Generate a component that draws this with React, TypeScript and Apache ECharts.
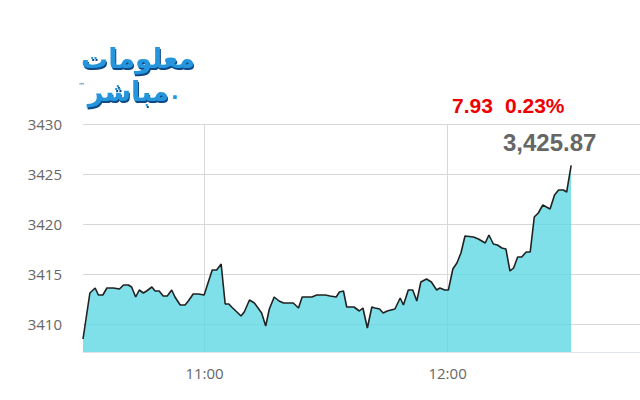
import React, { useEffect, useRef } from "react";
import * as echarts from "echarts";

// minutes after 10:30
const minuteOffsets = [
  0, 1.7, 3.0, 3.8, 4.9, 5.9, 7.5, 9.0, 10.0, 11.2, 12.0, 13.0, 13.9, 14.9, 15.7, 17.0, 17.8, 18.8, 19.8, 20.8,
  21.9, 22.7, 24.0, 25.2, 26.0, 27.2, 28.5, 29.9, 31.9, 33.0, 34.1, 35.1, 36.0, 36.7, 38.0, 39.0, 39.8, 41.1,
  42.3, 44.1, 45.1, 46.0, 47.2, 48.4, 49.5, 51.9, 53.2, 54.1, 56.5, 57.7, 59.8, 61.0, 62.5, 63.3, 64.3, 65.1,
  66.9, 68.2, 69.1, 70.2, 71.3, 72.1, 73.2, 74.1, 75.1, 77.0, 78.3, 79.1, 80.3, 81.4, 82.4, 83.4, 84.8, 86.0,
  87.3, 88.1, 89.3, 90.2, 91.3, 92.3, 93.3, 94.3, 96.4, 97.6, 99.3, 100.2, 101.3, 102.3, 103.4, 104.4, 105.4,
  106.3, 107.3, 108.3, 109.4, 110.4, 111.4, 112.4, 113.5, 115.3, 116.4, 117.4, 118.6, 119.4, 120.5,
];
const prices = [
  3408.5, 3413.1, 3413.6, 3412.9, 3412.9, 3413.6, 3413.6, 3413.5, 3413.9, 3413.9, 3413.7, 3412.7, 3413.4, 3413.1,
  3413.3, 3413.7, 3413.3, 3413.3, 3412.8, 3412.8, 3413.4, 3412.7, 3411.9, 3411.9, 3412.3, 3413.0, 3413.0, 3412.9,
  3415.4, 3415.4, 3416.0, 3412.0, 3412.0, 3411.7, 3411.2, 3410.8, 3411.2, 3412.4, 3412.1, 3411.1, 3409.8, 3411.5,
  3412.7, 3412.3, 3412.1, 3412.1, 3411.6, 3412.7, 3412.7, 3412.9, 3412.9, 3412.8, 3412.7, 3413.2, 3413.3, 3411.7,
  3411.7, 3411.3, 3411.6, 3409.6, 3411.7, 3411.6, 3411.5, 3411.1, 3411.3, 3411.5, 3412.6, 3411.9, 3413.4, 3413.4,
  3412.3, 3414.2, 3414.5, 3414.2, 3413.4, 3413.6, 3413.4, 3413.4, 3415.5, 3416.1, 3417.1, 3418.8, 3418.7, 3418.5,
  3418.1, 3418.9, 3418.0, 3417.9, 3417.6, 3417.5, 3415.3, 3415.6, 3416.7, 3416.7, 3417.2, 3417.2, 3420.7, 3421.1,
  3421.9, 3421.5, 3422.9, 3423.4, 3423.4, 3423.2, 3425.87,
];
const yTicks = [3410, 3415, 3420, 3425, 3430];
const xTicks = [30, 90]; // 11:00, 12:00
const changeText = "7.93";
const changePctText = "0.23%";
const lastText = "3,425.87";
const logoTop = "معلومات";
const logoBottom = "مباشر";

const OPEN_MIN = 10 * 60 + 30;

function fmtTime(m: number) {
  const t = Math.round(OPEN_MIN + m);
  const h = Math.floor(t / 60);
  const mm = t % 60;
  return h + ":" + String(mm).padStart(2, "0");
}

export default function App() {
  const ref = useRef<HTMLDivElement>(null);
  useEffect(() => {
    document.body.style.margin = "0";
    if (!ref.current) return;
    const chart = echarts.init(ref.current, null, { renderer: "svg" });
    const data = minuteOffsets.map((m, i) => [m, prices[i]]);
    const labelFont = { color: "#666", fontSize: 15, fontFamily: "Open Sans" };
    const logoStyle = {
      fill: "#2696dc",
      font: "bold 27px 'DejaVu Sans'",
      verticalAlign: "middle",
      textShadowColor: "#0c4a86",
      textShadowOffsetX: 1,
      textShadowOffsetY: 2,
      textShadowBlur: 1,
    };
    chart.setOption({
      animation: false,
      backgroundColor: "#fff",
      grid: { left: 83, right: 0, top: 124, bottom: 48 },
      xAxis: {
        type: "value",
        min: 0,
        max: 137.5,
        axisLine: { show: true, lineStyle: { color: "#dde2ec", width: 1 } },
        axisTick: { show: false, customValues: xTicks },
        axisLabel: { ...labelFont, margin: 13, customValues: xTicks, formatter: (v: number) => fmtTime(v) },
        splitLine: { show: true, lineStyle: { color: "#d8d8d8", width: 1 } },
      },
      yAxis: {
        type: "value",
        min: 3407.2,
        max: 3430,
        axisLine: { show: false },
        axisTick: { show: false, customValues: yTicks },
        axisLabel: { ...labelFont, margin: 21, customValues: yTicks, formatter: (v: number) => String(v) },
        splitLine: { show: true, lineStyle: { color: "#d8d8d8", width: 1 } },
      },
      series: [
        {
          type: "line",
          data,
          showSymbol: false,
          symbol: "none",
          lineStyle: { color: "#222", width: 1.6 },
          areaStyle: { color: "#5fd8e4", opacity: 0.8 },
          z: 2,
        },
      ],
      graphic: [
        {
          type: "text",
          x: 452,
          y: 105,
          style: { text: changeText, fill: "#ee0000", font: "bold 21px 'Liberation Sans', Arial", verticalAlign: "middle" },
        },
        {
          type: "text",
          x: 505,
          y: 105,
          style: { text: changePctText, fill: "#ee0000", font: "bold 21px 'Liberation Sans', Arial", verticalAlign: "middle" },
        },
        {
          type: "text",
          x: 503,
          y: 142,
          style: { text: lastText, fill: "#666", font: "bold 24px 'Liberation Sans', Arial", verticalAlign: "middle" },
        },
        {
          type: "text",
          x: 195,
          y: 58,
          style: { ...logoStyle, text: logoTop, align: "right" },
        },
        {
          type: "text",
          x: 169,
          y: 91,
          style: { ...logoStyle, text: logoBottom, align: "right" },
        },
        {
          type: "text",
          x: 171,
          y: 102,
          style: {
            text: ".",
            fill: "#2696dc",
            font: "bold 20px 'DejaVu Sans'",
            align: "left",
            verticalAlign: "bottom",
            textShadowColor: "#0c4a86",
            textShadowOffsetX: 1,
            textShadowOffsetY: 2,
          },
        },
        {
          type: "text",
          x: 78,
          y: 86,
          style: { text: "™", fill: "#2a5f9a", font: "7px 'DejaVu Sans'", verticalAlign: "middle" },
        },
      ],
    });
    return () => chart.dispose();
  }, []);
  return <div ref={ref} style={{ width: 640, height: 400 }} />;
}
